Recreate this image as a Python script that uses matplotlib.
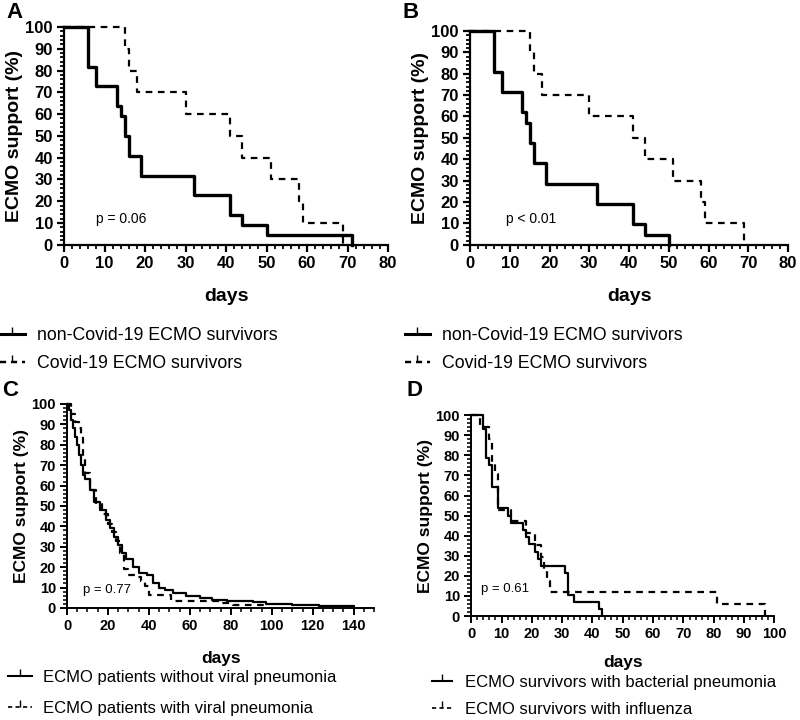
import matplotlib
matplotlib.use("Agg")
import matplotlib.pyplot as plt
from matplotlib.lines import Line2D
from matplotlib.ticker import MultipleLocator

plt.rcParams["font.family"] = ["Liberation Sans", "DejaVu Sans"]

# Panel A: non-Covid vs Covid survivors
a_days_non = [0, 6, 8, 13, 14, 15, 16, 19, 32, 41, 44, 50, 71]
a_pct_non = [100, 81.8, 72.7, 63.6, 59.1, 50, 40.9, 31.8, 22.7, 13.6, 9.1, 4.5, 0]
a_days_cov = [0, 15, 16, 18, 30, 41, 44, 51, 58, 59, 69]
a_pct_cov = [100, 90, 80, 70, 60, 50, 40, 30, 20, 10, 0]

# Panel B
b_days_non = [0, 6, 8, 13, 14, 15, 16, 19, 32, 41, 44, 50]
b_pct_non = [100, 81, 71.4, 61.9, 57.1, 47.6, 38.1, 28.6, 19, 9.5, 4.8, 0]
b_days_cov = [0, 15, 16, 18, 30, 41, 44, 51, 58, 59, 69]
b_pct_cov = [100, 90, 80, 70, 60, 50, 40, 30, 20, 10, 0]

# Panel C: without / with viral pneumonia
c_days_nov = [0, 1, 2, 3, 4, 5, 6, 7, 8, 9, 11, 13, 16, 19, 21, 23, 25, 27, 29,
              32, 35, 39, 42, 45, 48, 52, 58, 65, 71, 78, 91, 97, 110, 123, 133, 140]
c_pct_nov = [100, 97, 92, 88, 84, 80, 75, 70, 65, 63, 58, 52, 48, 43, 39, 35, 31,
             27, 24, 20, 17, 16, 12, 10, 8.6, 7.3, 5.7, 4.9, 4.1, 3.3, 2.8, 2.1,
             1.6, 1.1, 0.8, 0]
c_days_vir = [0, 2, 4, 6, 7, 8, 9, 11, 14, 17, 20, 22, 24, 26, 28, 30, 33, 36,
              38, 40, 51, 75, 81, 97]
c_pct_vir = [100, 95, 91, 88, 85, 74, 66, 58, 51, 46, 41, 37, 33, 27, 19, 16,
             15, 13, 11, 6.4, 3.2, 2.4, 1.6, 0]

# Panel D: bacterial pneumonia vs influenza
d_days_bac = [0, 4, 5, 6, 7, 9, 12, 13, 17, 18, 19, 21, 22, 23, 31, 32, 34, 42, 43]
d_pct_bac = [100, 92.9, 78.6, 75, 64.3, 53.6, 50, 46.4, 42.9, 39.3, 35.7, 32.1,
             28.6, 25, 21.4, 10.7, 7.1, 3.6, 0]
d_days_flu = [0, 3, 6, 7, 8, 9, 13, 18, 21, 23, 24, 25, 26, 81, 97]
d_pct_flu = [100, 94.1, 88.2, 76.5, 70.6, 52.9, 47.1, 41.2, 35.3, 29.4, 23.5,
             17.6, 11.8, 5.9, 0]

labels_ab = ["non-Covid-19 ECMO survivors", "Covid-19 ECMO survivors"]
labels_c = ["ECMO patients without viral pneumonia", "ECMO patients with viral pneumonia"]
labels_d = ["ECMO survivors with bacterial pneumonia", "ECMO survivors with influenza"]

fig = plt.figure(figsize=(8, 7.2), dpi=100)


def style_axes(ax, xmax, xmajor, xminor, fs_tick, fs_label, lw, pad):
    ax.set_xlim(0, xmax)
    ax.set_ylim(0, 100)
    for s in ["top", "right"]:
        ax.spines[s].set_visible(False)
    for s in ["left", "bottom"]:
        ax.spines[s].set_linewidth(lw)
    ax.xaxis.set_major_locator(MultipleLocator(xmajor))
    ax.xaxis.set_minor_locator(MultipleLocator(xminor))
    ax.yaxis.set_major_locator(MultipleLocator(10))
    ax.yaxis.set_minor_locator(MultipleLocator(2))
    ax.tick_params(which="major", length=5, width=lw, labelsize=fs_tick, pad=3)
    ax.tick_params(which="minor", length=3, width=lw * 0.8)
    for t in ax.get_xticklabels() + ax.get_yticklabels():
        t.set_fontweight("bold")
    ax.set_xlabel("days", fontsize=fs_label, fontweight="bold", labelpad=pad)
    ax.set_ylabel("ECMO support (%)", fontsize=fs_label, fontweight="bold", labelpad=2)


def legend(hs, labels, x, y, fs, spacing, hlen, tpad):
    fig.legend(hs, labels, loc="upper left", bbox_to_anchor=(x, y),
               frameon=False, fontsize=fs, handlelength=hlen, handletextpad=tpad,
               labelspacing=spacing, borderpad=0, borderaxespad=0)


def handles(lw):
    return [Line2D([], [], color="black", lw=lw, marker=2, markersize=5),
            Line2D([], [], color="black", lw=lw * 0.8, ls=(0, (2.5, 2)), marker=2, markersize=5)]


# A
axA = fig.add_axes([0.08, 0.66, 0.405, 0.3025])
axA.step(a_days_non, a_pct_non, where="post", color="black", lw=2.4, clip_on=False, zorder=3)
axA.step(a_days_cov, a_pct_cov, where="post", color="black", lw=1.6, ls=(0, (3, 2.5)), clip_on=False)
style_axes(axA, 80, 10, 2, 12, 14, 1.6, 12)
axA.text(8, 12, "p = 0.06", fontsize=10, va="center")
fig.text(0.008, 0.982, "A", fontsize=16, fontweight="bold", va="center")

# B
axB = fig.add_axes([0.5875, 0.66, 0.3975, 0.297])
axB.step(b_days_non, b_pct_non, where="post", color="black", lw=2.4, clip_on=False, zorder=3)
axB.step(b_days_cov, b_pct_cov, where="post", color="black", lw=1.6, ls=(0, (3, 2.5)), clip_on=False)
style_axes(axB, 80, 10, 2, 12, 14, 1.6, 12)
axB.text(9, 12, "p < 0.01", fontsize=10, va="center")
fig.text(0.503, 0.982, "B", fontsize=16, fontweight="bold", va="center")

legend(handles(2.2), labels_ab, 0.0, 0.546, 12.8, 0.63, 1.4, 0.67)
legend(handles(2.2), labels_ab, 0.506, 0.546, 12.8, 0.63, 1.4, 0.67)

# C
axC = fig.add_axes([0.08375, 0.1556, 0.384, 0.2833])
axC.step(c_days_nov, c_pct_nov, where="post", color="black", lw=1.6, clip_on=False, zorder=3)
axC.step(c_days_vir, c_pct_vir, where="post", color="black", lw=1.6, ls=(0, (3, 2.5)), clip_on=False)
style_axes(axC, 150, 20, 5, 10.5, 12.5, 1.4, 13)
axC.text(7.8, 9, "p = 0.77", fontsize=9.5, va="center")
fig.text(0.003, 0.457, "C", fontsize=16, fontweight="bold", va="center")
legend(handles(1.5), labels_c, 0.01, 0.0694, 12, 0.97, 1.45, 0.65)

# D
axD = fig.add_axes([0.589, 0.1444, 0.379, 0.279])
axD.step(d_days_bac, d_pct_bac, where="post", color="black", lw=1.6, clip_on=False, zorder=3)
axD.step(d_days_flu, d_pct_flu, where="post", color="black", lw=1.6, ls=(0, (3, 2.5)), clip_on=False)
style_axes(axD, 100, 10, 2, 10.5, 12.5, 1.4, 10)
axD.text(3.3, 13.4, "p = 0.61", fontsize=9.5, va="center")
fig.text(0.508, 0.458, "D", fontsize=16, fontweight="bold", va="center")
legend(handles(1.5), labels_d, 0.54, 0.063, 12, 0.75, 1.2, 0.78)

fig.savefig("out.png", dpi=100)
